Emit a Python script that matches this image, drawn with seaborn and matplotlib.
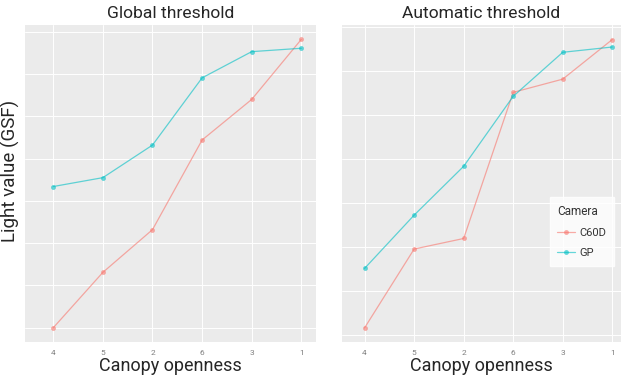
import numpy as np
import pandas as pd
import matplotlib
matplotlib.use("Agg")
import matplotlib.pyplot as plt
import seaborn as sns

categories = ["4", "5", "2", "6", "3", "1"]
global_c60d = [0.00, 1.31, 2.32, 4.44, 5.40, 6.82]
global_gp = [3.34, 3.55, 4.32, 5.91, 6.53, 6.61]
auto_c60d = [0.17, 1.96, 2.20, 5.52, 5.82, 6.72]
auto_gp = [1.52, 2.73, 3.84, 5.43, 6.43, 6.55]
cameras = ["C60D", "GP"]
colors = {"C60D": "#F8766D", "GP": "#00BFC4"}

sns.set_style("darkgrid", {"axes.facecolor": "#EBEBEB", "grid.color": "white"})
plt.rcParams["font.family"] = ["Roboto", "DejaVu Sans"]

fig = plt.figure(figsize=(6.3, 3.8), dpi=100)
ax1 = fig.add_axes([25/630, 1-341.7/380, 290.7/630, 316.7/380])
ax2 = fig.add_axes([342.3/630, 1-341.7/380, 278.4/630, 316.7/380])

def make_df(c, g):
    return pd.DataFrame({
        "Canopy": categories * 2,
        "x": list(range(len(categories))) * 2,
        "val": list(c) + list(g),
        "Camera": ["C60D"] * len(c) + ["GP"] * len(g),
    })

panels = [
    (ax1, make_df(global_c60d, global_gp), "Global threshold", (-0.57, 5.29), (-0.33, 7.16)),
    (ax2, make_df(auto_c60d, auto_gp), "Automatic threshold", (-0.45, 5.17), (-0.145, 7.05)),
]
for i, (ax, df, title, xl, yl) in enumerate(panels):
    sns.lineplot(data=df, x="x", y="val", hue="Camera", palette=colors,
                 marker="o", markersize=3.5, markeredgewidth=0, linewidth=0.9,
                 alpha=0.6, ax=ax, legend=(i == 1))
    ax.set_xlim(*xl)
    ax.set_ylim(*yl)
    ax.set_xticks(range(len(categories)))
    ax.set_xticklabels(categories, fontsize=6, color="#7F7F7F")
    ax.set_yticks(np.arange(0, 8, 1))
    ax.set_yticklabels([])
    ax.tick_params(axis="y", length=0)
    ax.tick_params(axis="x", length=2, color="#7F7F7F", pad=4)
    ax.grid(True, color="white", linewidth=0.7)
    for s in ax.spines.values():
        s.set_visible(False)
    ax.set_title(title, fontsize=12.6, pad=5)
    ax.set_xlabel("Canopy openness", fontsize=13, labelpad=1)
    ax.set_ylabel("")

ax1.set_ylabel("Light value (GSF)", fontsize=13.5)
ax1.yaxis.set_label_coords(-0.018, 0.54)

leg = ax2.legend(title="Camera", loc="upper left", bbox_to_anchor=(0.725, 0.473),
                 frameon=True, fontsize=8, title_fontsize=8.5, handlelength=1.6,
                 borderpad=0.7, labelspacing=0.9, handletextpad=0.4, fancybox=False)
leg.get_frame().set_facecolor("white")
leg.get_frame().set_edgecolor("white")
leg._legend_box.align = "left"
for t in leg.get_texts():
    t.set_color("#333333")
leg.get_title().set_color("#333333")

fig.savefig("out.png", dpi=100)
